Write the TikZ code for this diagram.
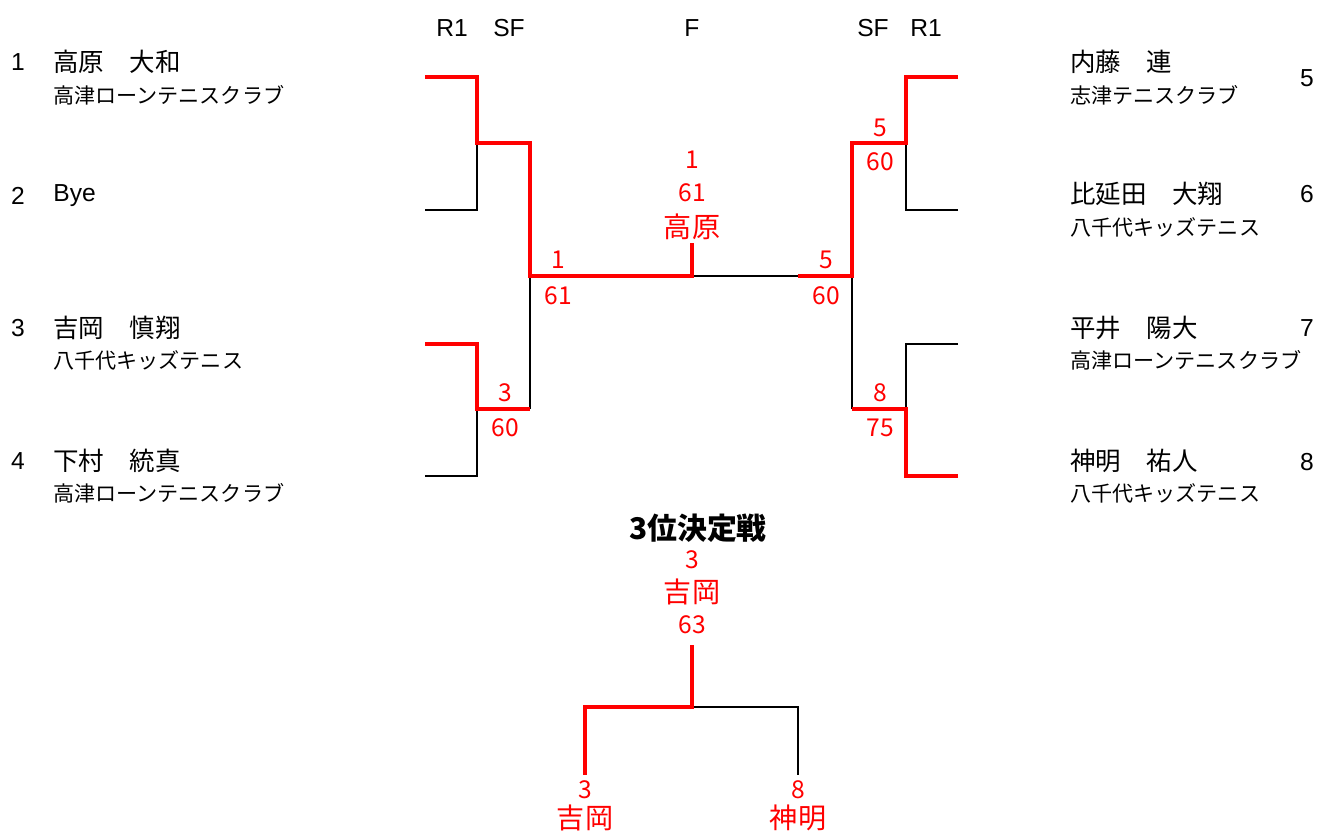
\documentclass[tikz,border=0pt]{standalone}
\usepackage{fontspec}
\setmainfont{Noto Sans CJK JP}
\newfontfamily\latinfont{Liberation Sans}
\usepackage{tikz}
\usetikzlibrary{positioning}

\begin{document}
\begin{tikzpicture}[x=0.02cm, y=-0.02cm]
				\tikzstyle{namenode}=[anchor=west, inner sep=0pt, font=\fontsize{14.5}{16}\selectfont]
				\tikzstyle{clubnode}=[anchor=west, inner sep=0pt, font=\fontsize{12}{14}\selectfont]
				\tikzstyle{seednode}=[inner sep=0pt, font=\latinfont\fontsize{14}{16}\selectfont]
				\tikzstyle{scorenode}=[inner sep=0pt, text=red, font=\fontsize{14}{16}\selectfont]
				\tikzstyle{winnode}=[inner sep=0pt, text=red, font=\fontsize{16}{18}\selectfont]
				\tikzstyle{winline}=[draw=red, line width=2.3pt]
				\tikzstyle{loseline}=[draw=black, line width=1.1pt]
				
				\useasboundingbox (0,0) rectangle (1317,832);
				
				% round headers
				\node (h1) at (452,28) [seednode] {R1};
				\node (h2) at (509,28) [seednode] {SF};
				\node (h3) at (692,28) [seednode] {F};
				\node (h4) at (873,28) [seednode] {SF};
				\node (h5) at (926,28) [seednode] {R1};
				
				% left side
				\node (n1) at (18,62) [seednode] {1};
				\node (p1) at (53,62) [namenode] {高原\hspace{1em}大和};
				\node (c1) at (53,95) [clubnode] {高津ローンテニスクラブ};
				\node (n2) at (18,196) [seednode] {2};
				\node (p2) at (53,196) [namenode, font=\latinfont\fontsize{14}{16}\selectfont] {Bye};
				\node (n3) at (18,328) [seednode] {3};
				\node (p3) at (53,328) [namenode] {吉岡\hspace{1em}慎翔};
				\node (c3) at (53,360) [clubnode] {八千代キッズテニス};
				\node (n4) at (18,461) [seednode] {4};
				\node (p4) at (53,461) [namenode] {下村\hspace{1em}統真};
				\node (c4) at (53,493) [clubnode] {高津ローンテニスクラブ};
				
				% right side
				\node (p5) at (1070,62) [namenode] {内藤\hspace{1em}連};
				\node (c5) at (1070,95) [clubnode] {志津テニスクラブ};
				\node (n5) at (1307,78) [seednode] {5};
				\node (p6) at (1070,194) [namenode] {比延田\hspace{1em}大翔};
				\node (c6) at (1070,227) [clubnode] {八千代キッズテニス};
				\node (n6) at (1307,194) [seednode] {6};
				\node (p7) at (1070,328) [namenode] {平井\hspace{1em}陽大};
				\node (c7) at (1070,360) [clubnode] {高津ローンテニスクラブ};
				\node (n7) at (1307,328) [seednode] {7};
				\node (p8) at (1070,461) [namenode] {神明\hspace{1em}祐人};
				\node (c8) at (1070,493) [clubnode] {八千代キッズテニス};
				\node (n8) at (1307,462) [seednode] {8};
				
				% bracket lines
				\draw [loseline] (425,210) -- (477,210) -- (477,143);
				\draw [loseline] (425,476) -- (477,476) -- (477,409);
				\draw [loseline] (530,409) -- (530,276);
				\draw [loseline] (692,276) -- (798,276);
				\draw [loseline] (958,210) -- (906,210) -- (906,143);
				\draw [loseline] (958,344) -- (906,344) -- (906,409);
				\draw [loseline] (852,276) -- (852,409);
				\draw [winline] (425,77) -- (477,77) -- (477,143) -- (530,143) -- (530,276) -- (692,276) -- (692,243);
				\draw [winline] (425,344) -- (477,344) -- (477,409) -- (530,409);
				\draw [winline] (958,77) -- (906,77) -- (906,143) -- (852,143) -- (852,276) -- (798,276);
				\draw [winline] (958,476) -- (906,476) -- (906,409) -- (852,409);
				
				% scores
				\node (s1) at (558,260) [scorenode] {1};
				\node (s1r) at (558,296) [scorenode] {61};
				\node (s3) at (505,393) [scorenode] {3};
				\node (s3r) at (505,428) [scorenode] {60};
				\node (s5) at (880,128) [scorenode] {5};
				\node (s5r) at (880,162) [scorenode] {60};
				\node (s8) at (880,393) [scorenode] {8};
				\node (s8r) at (880,428) [scorenode] {75};
				\node (f5) at (826,260) [scorenode] {5};
				\node (f5r) at (826,296) [scorenode] {60};
				\node (w1) at (692,160) [scorenode] {1};
				\node (w1r) at (692,193) [scorenode] {61};
				\node (w1n) at (692,227) [winnode] {高原};
				
				% third place
				\node (t0) at (698,528) [inner sep=0pt, font=\fontsize{17}{19}\selectfont\bfseries] {3位決定戦};
				\node (t1) at (692,560) [scorenode] {3};
				\node (t1n) at (692,592) [winnode] {吉岡};
				\node (t1r) at (692,625) [scorenode] {63};
				\draw [loseline] (692,707) -- (798,707) -- (798,775);
				\draw [winline] (692,645) -- (692,707) -- (585,707) -- (585,775);
				\node (t2) at (585,790) [scorenode] {3};
				\node (t2n) at (585,818) [winnode] {吉岡};
				\node (t3) at (798,790) [scorenode] {8};
				\node (t3n) at (798,818) [winnode] {神明};
\end{tikzpicture}
\end{document}
